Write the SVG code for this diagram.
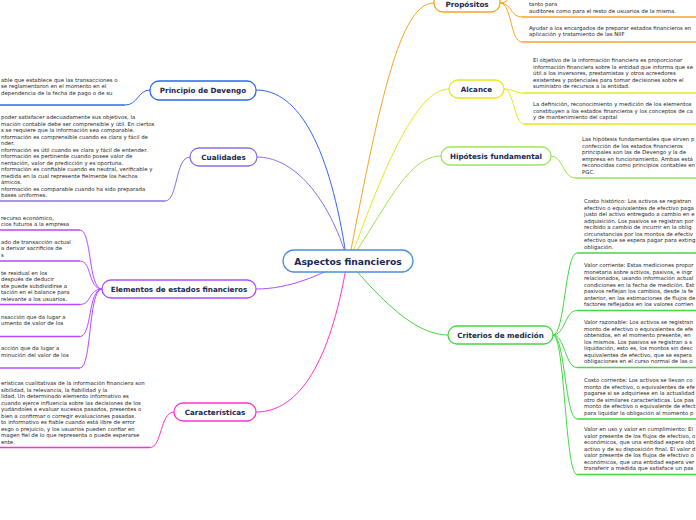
<svg xmlns="http://www.w3.org/2000/svg" width="696" height="520" viewBox="0 0 696 520">
<style>
.n{fill:#fff;stroke-width:1.3}
.nt{font-family:"DejaVu Sans","Liberation Sans",Arial,sans-serif;font-weight:bold;font-size:7.2px;fill:#1b2750;text-anchor:middle}
.lt{font-family:"DejaVu Sans","Liberation Sans",Arial,sans-serif;font-size:5.4px;fill:#262626}
.c{fill:none;stroke-width:1}
.u{fill:none;stroke-width:1.7}
</style>
<rect width="696" height="520" fill="#fff"/>
<g id="connectors">
<path class="c" stroke="#2f66f0" d="M346,255 C330,150 300,90 256,90"/>
<path class="c" stroke="#8a6fe0" d="M346,255 C325,190 290,157 257,157"/>
<path class="c" stroke="#b04cff" d="M346,261 C320,275 290,289 256,289"/>
<path class="c" stroke="#ff33cc" d="M346,268 C330,360 300,412 256,412"/>
<path class="c" stroke="#f5a623" d="M350,255 C380,100 400,3 434,3"/>
<path class="c" stroke="#e8e81a" d="M352,255 C390,150 420,89 449,89"/>
<path class="c" stroke="#99e64f" d="M354,255 C390,200 410,156 441,156"/>
<path class="c" stroke="#44d844" d="M354,268 C390,310 420,335 448,335"/>
<path class="c" stroke="#2f66f0" d="M150,90 C138,90 138,105 125,105"/>
<path class="u" stroke="#2f66f0" d="M0,105 H125"/>
<path class="c" stroke="#8a6fe0" d="M190,157 C175,157 178,201 165,201"/>
<path class="u" stroke="#8a6fe0" d="M0,201 H165"/>
<g stroke="#b04cff">
<path class="c" d="M102,289 C88,289 92,230 80,230"/>
<path class="c" d="M102,289 C88,289 92,261 80,261"/>
<path class="c" d="M102,289 C88,289 92,304.5 80,304.5"/>
<path class="c" d="M102,289 C88,289 92,336.5 80,336.5"/>
<path class="c" d="M102,289 C88,289 92,368 80,368"/>
<path class="u" d="M0,230 H80 M0,261 H80 M0,304.5 H80 M0,336.5 H80 M0,368 H80"/>
</g>
<path class="c" stroke="#ff33cc" d="M174,412 C160,412 162,447.5 150,447.5"/>
<path class="u" stroke="#ff33cc" d="M0,447.5 H150"/>
<g stroke="#f5a623">
<path class="c" d="M500,3 C512,3 510,-12 522,-12"/>
<path class="c" d="M500,3 C512,3 510,17 522,17"/>
<path class="c" d="M500,3 C512,3 510,42 522,42"/>
<path class="u" d="M522,17 H696 M522,42 H696"/>
</g>
<g stroke="#e8e81a">
<path class="c" d="M504,89 C514,89 514,93 524,93"/>
<path class="c" d="M504,89 C514,89 514,124 524,124"/>
<path class="u" d="M524,93 H696 M524,124 H696"/>
</g>
<path class="c" stroke="#99e64f" d="M551,156 C563,156 563,178 575,178"/>
<path class="u" stroke="#99e64f" d="M575,178 H696"/>
<g stroke="#44d844">
<path class="c" d="M553,335 C565,335 565,253 577,253"/>
<path class="c" d="M553,335 C565,335 565,310.5 577,310.5"/>
<path class="c" d="M553,335 C565,335 565,367.5 577,367.5"/>
<path class="c" d="M553,335 C565,335 565,419 577,419"/>
<path class="c" d="M553,335 C565,335 565,474.5 577,474.5"/>
<path class="u" d="M577,253 H696 M577,310.5 H696 M577,367.5 H696 M577,419 H696 M577,474.5 H696"/>
</g>
</g>
<g id="root">
<rect class="n" x="283" y="250" width="130" height="22" rx="11" stroke="#4a8fd8"/>
<text class="nt" x="348" y="264.5" style="font-size:9.2px">Aspectos financieros</text>
</g>
<g id="devengo">
<rect class="n" x="150" y="81" width="106" height="19" rx="9" stroke="#2f66f0"/>
<text class="nt" x="203" y="93.3">Principio de Devengo</text>
<text class="lt" x="1" y="81.5">able que establece que las transacciones o</text>
<text class="lt" x="1" y="88">se reglamentaron en el momento en el</text>
<text class="lt" x="1" y="94.5">dependencia de la fecha de pago o de su</text>
</g>
<g id="cualidades">
<rect class="n" x="190" y="148" width="67" height="18" rx="9" stroke="#8a6fe0"/>
<text class="nt" x="223.5" y="159.6">Cualidades</text>
<text class="lt" x="1" y="119">poder satisfacer adecuadamente sus objetivos, la</text>
<text class="lt" x="1" y="125.5">mación contable debe ser comprensible y útil. En ciertos</text>
<text class="lt" x="1" y="132">s se requiere que la información sea comparable.</text>
<text class="lt" x="1" y="138.5">nformación es comprensible cuando es clara y fácil de</text>
<text class="lt" x="1" y="145">nder.</text>
<text class="lt" x="1" y="151.5">nformación es útil cuando es clara y fácil de entender.</text>
<text class="lt" x="1" y="158">nformación es pertinente cuando posee valor de</text>
<text class="lt" x="1" y="164.5">nentación, valor de predicción y es oportuna.</text>
<text class="lt" x="1" y="171">nformación es confiable cuando es neutral, verificable y</text>
<text class="lt" x="1" y="177.5">medida en la cual represente fielmente los hechos</text>
<text class="lt" x="1" y="184">ámicos.</text>
<text class="lt" x="1" y="190.5">nformación es comparable cuando ha sido preparada</text>
<text class="lt" x="1" y="197">bases uniformes.</text>
</g>
<g id="elementos">
<rect class="n" x="102" y="280" width="154" height="18" rx="9" stroke="#b04cff"/>
<text class="nt" x="179" y="291.6">Elementos de estados financieros</text>
<text class="lt" x="1" y="219.5">recurso económico,</text>
<text class="lt" x="1" y="226">cios futuros a la empresa</text>
<text class="lt" x="1" y="243.5">ado de transacción actual</text>
<text class="lt" x="1" y="250">a derivar sacrificios de</text>
<text class="lt" x="1" y="256.5">s</text>
<text class="lt" x="1" y="274.5">te residual en los</text>
<text class="lt" x="1" y="281">después de deducir</text>
<text class="lt" x="1" y="287.5">ste puede subdividirse a</text>
<text class="lt" x="1" y="294">tación en el balance para</text>
<text class="lt" x="1" y="300.5">relevante a los usuarios.</text>
<text class="lt" x="1" y="318.5">nsacción que da lugar a</text>
<text class="lt" x="1" y="325">umento de valor de los</text>
<text class="lt" x="1" y="350">acción que da lugar a</text>
<text class="lt" x="1" y="356.5">minución del valor de los</text>
</g>
<g id="caracteristicas">
<rect class="n" x="174" y="403" width="82" height="18" rx="9" stroke="#ff33cc"/>
<text class="nt" x="215" y="414.6">Características</text>
<text class="lt" x="1" y="385">erísticas cualitativas de la información financiera son</text>
<text class="lt" x="1" y="391.5">sibilidad, la relevancia, la fiabilidad y la</text>
<text class="lt" x="1" y="398">lidad. Un determinado elemento informativo es</text>
<text class="lt" x="1" y="404.5">cuando ejerce influencia sobre las decisiones de los</text>
<text class="lt" x="1" y="411">yudándoles a evaluar sucesos pasados, presentes o</text>
<text class="lt" x="1" y="417.5">bien a confirmar o corregir evaluaciones pasadas.</text>
<text class="lt" x="1" y="424">to informativo es fiable cuando está libre de error</text>
<text class="lt" x="1" y="430.5">esgo o prejuicio, y los usuarios pueden confiar en</text>
<text class="lt" x="1" y="437">magen fiel de lo que representa o puede esperarse</text>
<text class="lt" x="1" y="443.5">ente.</text>
</g>
<g id="propositos">
<rect class="n" x="434" y="-8" width="66" height="20" rx="9" stroke="#f5a623"/>
<text class="nt" x="467" y="7">Propósitos</text>
<text class="lt" x="529" y="6">tanto para</text>
<text class="lt" x="529" y="12.5">auditores como para el resto de usuarios de la misma.</text>
<text class="lt" x="529" y="29.5">Ayudar a los encargados de preparar estados financieros en</text>
<text class="lt" x="529" y="36">aplicación y tratamiento de las NIIF</text>
</g>
<g id="alcance">
<rect class="n" x="449" y="80" width="55" height="18" rx="9" stroke="#e8e81a"/>
<text class="nt" x="476.5" y="91.6">Alcance</text>
<text class="lt" x="533" y="62">El objetivo de la información financiera es proporcionar</text>
<text class="lt" x="533" y="68.5">información financiera sobre la entidad que informa que se</text>
<text class="lt" x="533" y="75">útil a los inversores, prestamistas y otros acreedores</text>
<text class="lt" x="533" y="81.5">existentes y potenciales para tomar decisiones sobre el</text>
<text class="lt" x="533" y="88">suministro de recursos a la entidad.</text>
<text class="lt" x="533" y="106">La definición, reconocimiento y medición de los elementos</text>
<text class="lt" x="533" y="112.5">constituyen a los estados financieros y los conceptos de ca</text>
<text class="lt" x="533" y="119">y de mantenimiento del capital</text>
</g>
<g id="hipotesis">
<rect class="n" x="441" y="147" width="110" height="18" rx="9" stroke="#99e64f"/>
<text class="nt" x="496" y="158.6">Hipótesis fundamental</text>
<text class="lt" x="582" y="141">Las hipótesis fundamentales que sirven p</text>
<text class="lt" x="582" y="147.5">confección de los estados financieros</text>
<text class="lt" x="582" y="154">principales son las de Devengo y la de</text>
<text class="lt" x="582" y="160.5">empresa en funcionamiento. Ambas está</text>
<text class="lt" x="582" y="167">reconocidas como principios contables en</text>
<text class="lt" x="582" y="173.5">PGC.</text>
</g>
<g id="criterios">
<rect class="n" x="448" y="326" width="105" height="18" rx="9" stroke="#44d844"/>
<text class="nt" x="500.5" y="337.6">Criterios de medición</text>
<text class="lt" x="584" y="203">Costo histórico: Los activos se registran</text>
<text class="lt" x="584" y="209.5">efectivo o equivalentes de efectivo paga</text>
<text class="lt" x="584" y="216">justo del activo entregado a cambio en e</text>
<text class="lt" x="584" y="222.5">adquisición. Los pasivos se registran por</text>
<text class="lt" x="584" y="229">recibido a cambio de incurrir en la oblig</text>
<text class="lt" x="584" y="235.5">circunstancias por los montos de efectiv</text>
<text class="lt" x="584" y="242">efectivo que se espera pagar para exting</text>
<text class="lt" x="584" y="248.5">obligación.</text>
<text class="lt" x="584" y="267">Valor corriente: Estas mediciones propor</text>
<text class="lt" x="584" y="273.5">monetaria sobre activos, pasivos, e ingr</text>
<text class="lt" x="584" y="280">relacionados, usando información actual</text>
<text class="lt" x="584" y="286.5">condiciones en la fecha de medición. Est</text>
<text class="lt" x="584" y="293">pasivos reflejan los cambios, desde la fe</text>
<text class="lt" x="584" y="299.5">anterior, en las estimaciones de flujos de</text>
<text class="lt" x="584" y="306">factores reflejados en los valores corrien</text>
<text class="lt" x="584" y="324">Valor razonable: Los activos se registran</text>
<text class="lt" x="584" y="330.5">monto de efectivo o equivalentes de efe</text>
<text class="lt" x="584" y="337">obtenidos, en el momento presente, en</text>
<text class="lt" x="584" y="343.5">los mismos. Los pasivos se registran a s</text>
<text class="lt" x="584" y="350">liquidación, esto es, los montos sin desc</text>
<text class="lt" x="584" y="356.5">equivalentes de efectivo, que se espera</text>
<text class="lt" x="584" y="363">obligaciones en el curso normal de las o</text>
<text class="lt" x="584" y="382">Costo corriente: Los activos se llevan co</text>
<text class="lt" x="584" y="388.5">monto de efectivo, o equivalentes de efe</text>
<text class="lt" x="584" y="395">pagarse si se adquiriese en la actualidad</text>
<text class="lt" x="584" y="401.5">otro de similares características. Los pas</text>
<text class="lt" x="584" y="408">monto de efectivo o equivalente de efect</text>
<text class="lt" x="584" y="414.5">para liquidar la obligación al momento p</text>
<text class="lt" x="584" y="431">Valor en uso y valor en cumplimiento: El</text>
<text class="lt" x="584" y="437.5">valor presente de los flujos de efectivo, o</text>
<text class="lt" x="584" y="444">económicos, que una entidad espera obt</text>
<text class="lt" x="584" y="450.5">activo y de su disposición final. El valor d</text>
<text class="lt" x="584" y="457">valor presente de los flujos de efectivo o</text>
<text class="lt" x="584" y="463.5">económicos, que una entidad espera ver</text>
<text class="lt" x="584" y="470">transferir a medida que satisface un pas</text>
</g>
</svg>
